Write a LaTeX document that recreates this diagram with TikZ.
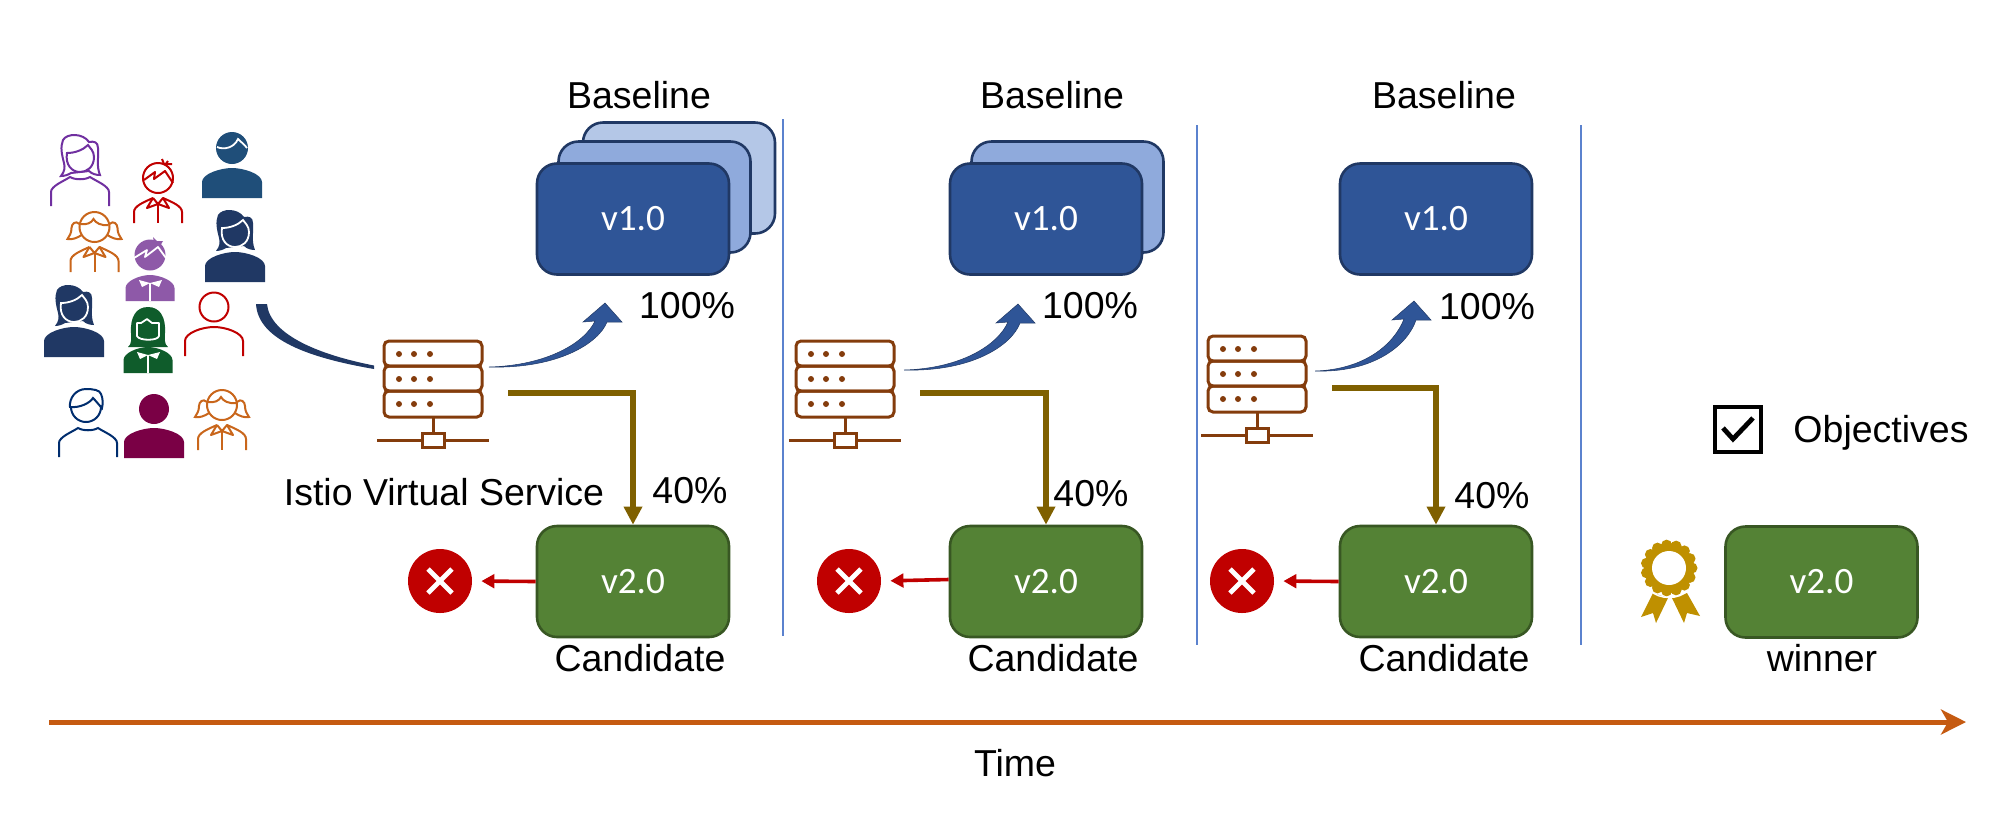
\documentclass[tikz,border=0pt]{standalone}
\usepackage{fontspec}
\setmainfont{Liberation Sans}
\newfontfamily\boxfont{Carlito}
\usetikzlibrary{arrows.meta}
\definecolor{bluefill}{HTML}{2F5597}
\definecolor{blueedge}{HTML}{203864}
\definecolor{bluemid}{HTML}{8FAADC}
\definecolor{bluelight}{HTML}{B4C7E7}
\definecolor{greenfill}{HTML}{548235}
\definecolor{greenedge}{HTML}{385723}
\definecolor{srvbrown}{HTML}{843C0C}
\definecolor{goldline}{HTML}{7F6000}
\definecolor{redx}{HTML}{C00000}
\definecolor{timeline}{HTML}{C55A11}
\definecolor{sepline}{HTML}{5B82CE}
\definecolor{medal}{HTML}{BF9000}
\definecolor{ppurple}{HTML}{7030A0}
\definecolor{pblue}{HTML}{1F4E79}
\definecolor{porange}{HTML}{C9661B}
\definecolor{pviolet}{HTML}{8E59A8}
\definecolor{pgreen}{HTML}{0F5C2B}
\definecolor{pnavy}{HTML}{002D6E}
\definecolor{pmaroon}{HTML}{7A0045}
\tikzset{
  vbox/.style={draw, rounded corners=10pt, minimum width=96pt, minimum height=55.5pt, inner sep=0pt, line width=1.3pt, text=white, font=\boxfont\fontsize{18.6}{20}\selectfont},
  bluebox/.style={vbox, fill=bluefill, draw=blueedge},
  midbox/.style={vbox, fill=bluemid, draw=blueedge},
  lightbox/.style={vbox, fill=bluelight, draw=blueedge},
  greenbox/.style={vbox, fill=greenfill, draw=greenedge},
  lab/.style={anchor=base, inner sep=0pt, font=\fontsize{18.75}{20}\selectfont},
  goldarrow/.style={draw=goldline, line width=3pt, -{Triangle[length=9pt,width=8.8pt]}},
  redarrow/.style={draw=redx, line width=1.8pt, -{Triangle[length=6.5pt,width=6.8pt]}, shorten >=4.5pt},
  sep/.style={draw=sepline, line width=0.55pt},
  xdisc/.style={circle, fill=redx, minimum size=32pt, inner sep=0pt},
  xstroke/.style={draw=white, line width=2.4pt},
  flow/.style={fill=bluefill, draw=blueedge, line width=0.25pt},
  ol/.style={line width=1pt, fill=white},
  server/.pic={
    \begin{scope}[draw=srvbrown, line width=1.5pt]
      \draw[rounded corners=2.5pt] (-49,-38) rectangle (49,-13);
      \draw[rounded corners=2.5pt] (-49,-13) rectangle (49,12);
      \draw[rounded corners=2.5pt] (-49,12) rectangle (49,38);
      \draw (0,38) -- (0,54);
      \draw (-56,61) -- (56,61);
      \draw[fill=white] (-11,54) rectangle (11,68);
    \end{scope}
    \foreach \px in {-34,-19,-3}{
      \foreach \py in {-25,0,25}{
        \fill[srvbrown] (\px,\py) circle[radius=3];
      }
    }
  },
  bodyplain/.pic={
    \draw[ol] (-29,29) -- (-29,14) .. controls (-29,6) and (-12,0) .. (0,0) .. controls (12,0) and (29,6) .. (29,14) -- (29,29);
  },
  bodywoman/.pic={
    \draw[ol] (-29,29) -- (-29,15) .. controls (-29,9) and (-16,4) .. (-10,0) .. controls (-5,3) and (5,3) .. (10,0) .. controls (16,4) and (29,9) .. (29,15) -- (29,29);
  },
  bodysolid/.pic={
    \fill (-30,30) -- (-30,14) .. controls (-30,6) and (-12,0) .. (0,0) .. controls (12,0) and (30,6) .. (30,14) -- (30,30) -- cycle;
  },
  bodycollar/.pic={
    \draw[line width=1pt] (-24,24) -- (-24,13) .. controls (-24,7) and (-14,3) .. (-5,-1);
    \draw[line width=1pt] (24,24) -- (24,13) .. controls (24,7) and (14,3) .. (5,-1);
    \draw[line width=1pt, line join=round] (-5,-1) -- (-11,9) -- (0,5) -- (11,9) -- (5,-1) -- (0,5) -- (-5,-1);
    \draw[line width=1pt] (0,5) -- (0,24);
  },
  bodybow/.pic={
    \fill (-24.5,26) -- (-24.5,13) .. controls (-24.5,6) and (-10,0) .. (0,0) .. controls (10,0) and (24.5,6) .. (24.5,13) -- (24.5,26) -- cycle;
    \fill[white] (-11,5) -- (0,8) -- (12,5) -- (9,12) -- (0,8) -- (-8,12) -- cycle;
    \draw[white, line width=0.8pt] (0,8) -- (0,26);
  },
  womanhead/.pic={
    \path[pic actions] (-19,-1) .. controls (-15,-6) and (-15,-10) .. (-16,-14) .. controls (-18,-22) and (-20,-30) .. (-17,-37) .. controls (-13,-44) and (3,-44) .. (9,-35) .. controls (14,-36) and (18,-35) .. (18,-29) .. controls (19,-20) and (16,-12) .. (20,-2) .. controls (16,-2) and (12,-3) .. (9,-6) -- (-9,-4) .. controls (-12,-2) and (-16,-1) .. (-19,-1) -- cycle;
  },
  womanface/.pic={
    \path[pic actions] (-13,-24) .. controls (-5,-24) and (3,-27) .. (8,-32) .. controls (10,-29) and (14,-26) .. (14,-20) .. controls (14,-10) and (7,-5) .. (0,-5) .. controls (-8,-5) and (-15,-12) .. (-13,-24) -- cycle;
  },
  womanline/.pic={
    \pic[draw, line width=1pt, fill=white] {womanhead};
    \pic[draw, line width=1pt, fill=white] {womanface};
    \pic {bodywoman};
  },
  womansolid/.pic={
    \pic[fill] {womanhead};
    \pic[fill, draw=white, line width=0.9pt] {womanface};
    \pic {bodysolid};
  },
  manline/.pic={
    \draw[ol] (-2,-21) circle[radius=15];
    \draw[line width=1pt, fill=white] (-18,-21) .. controls (-19,-30) and (-12,-39) .. (-2,-39) .. controls (5,-39) and (12,-38) .. (13,-34) .. controls (15,-30) and (15,-24) .. (14,-20) .. controls (11,-23) and (8,-27) .. (5,-30) .. controls (2,-25) and (-8,-20) .. (-18,-21) -- cycle;
    \pic {bodywoman};
  },
  mansolid/.pic={
    \fill (0,-20) circle[radius=16];
    \draw[white, line width=0.9pt] (-15,-21) .. controls (-8,-18) and (2,-20) .. (6,-29) .. controls (9,-26) and (13,-23) .. (15,-20);
    \pic {bodysolid};
  },
  boyline/.pic={
    \draw[ol] (0,-21) circle[radius=15];
    \draw[line width=1pt, line join=round] (-14,-19) -- (-3,-27) -- (-4,-20) -- (7,-28) -- (15,-16);
    \draw[line width=1pt] (6,-35) -- (4,-40) (6,-35) -- (14,-35) (7,-34) -- (10,-38);
    \pic {bodycollar};
  },
  boysolid/.pic={
    \fill (0,-20) circle[radius=15.5];
    \fill (4,-33) -- (3,-38) -- (7,-34) -- (13,-34) -- (10,-29) -- cycle;
    \draw[white, line width=0.9pt, line join=round] (-16,-17) -- (-3,-25) -- (-5,-18) -- (8,-28) -- (16,-17);
    \pic {bodybow};
  },
  girlline/.pic={
    \draw[line width=1pt, fill=white] (-15,-24) .. controls (-19,-28) and (-23,-24) .. (-23,-20) .. controls (-23,-15) and (-25,-12) .. (-27,-9) .. controls (-23,-8) and (-17,-10) .. (-13,-13);
    \draw[line width=1pt, fill=white] (15,-24) .. controls (19,-28) and (23,-24) .. (23,-20) .. controls (23,-15) and (25,-12) .. (27,-9) .. controls (23,-8) and (17,-10) .. (13,-13);
    \draw[ol] (0,-21) circle[radius=15];
    \draw[line width=1pt] (-14,-24) .. controls (-8,-23) and (-3,-25) .. (-1,-29) .. controls (1,-25) and (7,-22) .. (14,-23);
    \pic {bodycollar};
  },
  girlsolid/.pic={
    \fill (-20,0) .. controls (-16,-3) and (-17,-8) .. (-17,-14) .. controls (-18,-30) and (-12,-40) .. (0,-40) .. controls (12,-40) and (18,-30) .. (17,-14) .. controls (17,-8) and (16,-3) .. (20,0) -- cycle;
    \draw[white, line width=0.9pt, fill=pgreen, line join=round] (-11,-24) -- (-7,-24) -- (-1,-28) -- (4,-24) -- (11,-24) -- (11,-11) .. controls (10,-6) and (-9,-6) .. (-11,-11) -- cycle;
    \pic {bodybow};
  },
  person/.pic={
    \draw[ol] (0,-20) circle[radius=14.5];
    \pic {bodyplain};
  },
  personsolid/.pic={
    \fill (0,-19) circle[radius=15];
    \pic {bodysolid};
  }
}
\begin{document}
\begin{tikzpicture}[x=0.5pt,y=-0.5pt]
\useasboundingbox (0,0) rectangle (2004,837);

% people
\pic[color=ppurple] at (80,177) {womanline};
\pic[color=redx] at (158,199) {boyline};
\pic[color=pblue] at (232,168) {mansolid};
\pic[color=porange] at (94.5,248) {girlline};
\pic[color=pviolet] at (150,275) {boysolid};
\pic[color=blueedge] at (235,252) {womansolid};
\pic[color=blueedge] at (74,327) {womansolid};
\pic[color=pgreen] at (148,347) {girlsolid};
\pic[color=redx] at (214,327) {person};
\pic[color=pnavy] at (88,428) {manline};
\pic[color=pmaroon] at (154,428) {personsolid};
\pic[color=porange] at (222,426) {girlline};

% boxes
\node[lightbox] (a3) at (679,178) {};
\node[midbox] (a2) at (654.5,197) {};
\node[bluebox] (a1) at (633,219) {v1.0};
\node[greenbox] (c1) at (633,581.5) {v2.0};

\node[midbox] (b2) at (1067.5,197) {};
\node[bluebox] (b1) at (1046,219) {v1.0};
\node[greenbox] (c2) at (1046,581.5) {v2.0};

\node[bluebox] (d1) at (1436,219) {v1.0};
\node[greenbox] (c3) at (1436,581.5) {v2.0};

\node[greenbox] (c4) at (1821.5,582) {v2.0};

% texts
\node[lab] (t1) at (639,108) {Baseline};
\node[lab] (t2) at (1052,108) {Baseline};
\node[lab] (t3) at (1444,108) {Baseline};
\node[lab] (p1) at (687,318) {100\%};
\node[lab] (p2) at (1090,318) {100\%};
\node[lab] (p3) at (1487,319) {100\%};
\node[lab] (q1) at (690,503) {40\%};
\node[lab] (q2) at (1091,506) {40\%};
\node[lab] (q3) at (1492,508) {40\%};
\node[lab] (n1) at (640,671) {Candidate};
\node[lab] (n2) at (1053,671) {Candidate};
\node[lab] (n3) at (1444,671) {Candidate};
\node[lab] (w) at (1822,671) {winner};
\node[lab] (svc) at (444,505) {Istio Virtual Service};
\node[lab] (obj) at (1881,442) {Objectives};
\node[lab] (tm) at (1015,776) {Time};

% separators
\coordinate (s1a) at (783,119); \coordinate (s1b) at (783,636);
\coordinate (s2a) at (1197,125); \coordinate (s2b) at (1197,645);
\coordinate (s3a) at (1581,125); \coordinate (s3b) at (1581,645);
\draw[sep] (s1a) -- (s1b);
\draw[sep] (s2a) -- (s2b);
\draw[sep] (s3a) -- (s3b);

% servers
\pic at (433,379) {server};
\pic at (845,379) {server};
\pic at (1257,374) {server};

% incoming flow
\fill[blueedge] (256,304) -- (267,304) .. controls (270,335) and (320,355) .. (374,365.5) -- (374,369) .. controls (310,358) and (258,340) .. (256,304) -- cycle;

% curved arrows to baseline
\foreach \tip/\sx/\sy in {605/-116/64, 1018/-114/66, 1414/-99/70}{
  \pgfmathsetmacro{\ty}{\tip==1414 ? 301 : (\tip==1018 ? 304 : 303)}
  \begin{scope}[shift={(\tip,\ty)}]
    \path[flow] (\sx,\sy) .. controls ({0.4*\sx},{\sy+2}) and (-6,{0.62*\sy}) .. (2,19) -- (17,19) -- (0,0) -- (-22,19) -- (-10,18) .. controls (-20,{0.62*\sy}) and ({0.5*\sx},{\sy-1.5}) .. (\sx,\sy) -- cycle;
  \end{scope}
}

% gold arrows
\coordinate (g1) at (508,393);
\coordinate (g2) at (920,393);
\coordinate (g3) at (1332,388);
\draw[goldarrow] (g1) -| (c1.north);
\draw[goldarrow] (g2) -| (c2.north);
\draw[goldarrow] (g3) -| (c3.north);

% red rejections
\node[xdisc] (x1) at (440,581) {};
\node[xdisc] (x2) at (849,581) {};
\node[xdisc] (x3) at (1242,581) {};
\foreach \xx in {x1,x2,x3}{
  \draw[xstroke] (\xx.center) ++(-12,-12) -- ++(24,24);
  \draw[xstroke] (\xx.center) ++(12,-12) -- ++(-24,24);
}
\draw[redarrow] (c1.west) -- (x1.east);
\draw[redarrow] (c2.west) ++(0,-2) -- (x2.east);
\draw[redarrow] (c3.west) -- (x3.east);

% time axis
\coordinate (ta) at (49,722);
\coordinate (tb) at (1966,722);
\draw[draw=timeline, line width=2.5pt, -{Stealth[length=12.5pt,width=12.5pt,inset=3.5pt]}] (ta) -- (tb);

% objectives check
\draw[line width=1.8pt] (1715,407) rectangle (1761,452);
\draw[line width=2.4pt] (1723,428) -- (1733,439) -- (1753,418);

% medal
\begin{scope}[medal]
  \fill (1653,593) -- (1668,598) -- (1656,623) -- (1653,613) -- (1641,617) -- cycle;
  \fill (1672,598) -- (1687,593) -- (1700,616) -- (1687,613) -- (1684,623) -- cycle;
  \fill (1669,568) circle[radius=25];
  \foreach \ang in {0,24,...,336}{
    \fill (1669,568) ++(\ang:23) circle[radius=5.5];
  }
  \draw[white, line width=0.7pt] (1650,590) .. controls (1658,600) and (1680,600) .. (1688,590);
  \fill[white] (1669,568) circle[radius=17];
\end{scope}
\end{tikzpicture}
\end{document}
